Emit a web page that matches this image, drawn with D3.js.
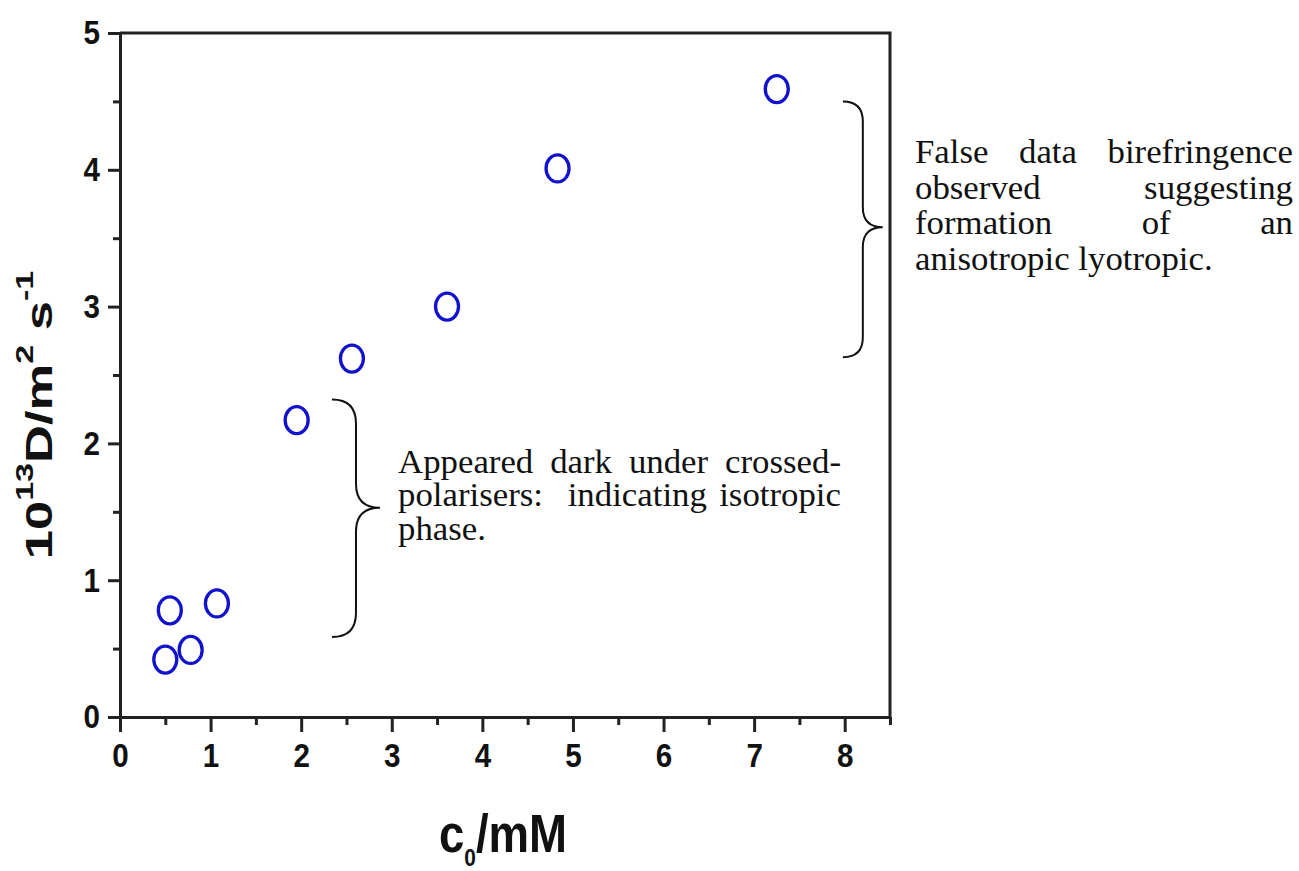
<!DOCTYPE html>
<html>
<head>
<meta charset="utf-8">
<script src="https://cdn.jsdelivr.net/npm/d3@7"></script>
<style>
body { margin: 0; background: #fff; }
svg { display: block; }
</style>
</head>
<body>
<div id="fig"></div>
<script>
// c0 in mM
var conc = [0.50, 0.55, 0.78, 1.07, 1.95, 2.56, 3.61, 4.83, 7.25];
// 10^13 D / m^2 s^-1
var diff = [0.42, 0.78, 0.49, 0.83, 2.17, 2.62, 3.00, 4.01, 4.59];

var xTicks = [0, 1, 2, 3, 4, 5, 6, 7, 8];
var xMinor = [0.5, 1.5, 2.5, 3.5, 4.5, 5.5, 6.5, 7.5, 8.5];
var yTicks = [0, 1, 2, 3, 4, 5];
var yMinor = [0.5, 1.5, 2.5, 3.5, 4.5];

var noteLow = ["Appeared dark under crossed-", "polarisers:  indicating isotropic", "phase."];
var noteHigh = ["False data birefringence", "observed suggesting", "formation of an", "anisotropic lyotropic."];

// brace spans, in data units: [x end, x tip, y top, y bottom, y tip]
var braceLow = [2.34, 2.87, 2.32, 0.585, 1.53];
var braceHigh = [7.98, 8.42, 4.50, 2.63, 3.58];

var margin = { top: 33, right: 409, bottom: 154, left: 120 };
var W = 1299, H = 871;
var width = W - margin.left - margin.right;
var height = H - margin.top - margin.bottom;

var svg = d3.select("#fig").append("svg")
    .attr("width", W)
    .attr("height", H);

var fig = svg.append("g")
    .attr("transform", "translate(" + margin.left + "," + margin.top + ")");

var x = d3.scaleLinear().domain([0, 8.5]).range([0, width]);
var y = d3.scaleLinear().domain([0, 5]).range([height, 0]);

var axisFont = "'Liberation Sans', Arial, sans-serif";

// frame top / right
fig.append("path")
    .attr("d", "M0,0H" + width + "V" + height)
    .attr("fill", "none")
    .attr("stroke", "#222")
    .attr("stroke-width", 3);

// minor ticks
fig.append("g")
    .attr("transform", "translate(0," + height + ")")
    .call(d3.axisBottom(x).tickValues(xMinor).tickSize(8).tickSizeOuter(0).tickFormat(""))
    .call(g => g.select(".domain").remove())
    .call(g => g.selectAll("line").attr("stroke", "#222").attr("stroke-width", 3));

fig.append("g")
    .call(d3.axisLeft(y).tickValues(yMinor).tickSize(7).tickSizeOuter(0).tickFormat(""))
    .call(g => g.select(".domain").remove())
    .call(g => g.selectAll("line").attr("stroke", "#222").attr("stroke-width", 3));

// major axes
var xAxis = fig.append("g")
    .attr("transform", "translate(0," + height + ")")
    .call(d3.axisBottom(x).tickValues(xTicks).tickFormat(d3.format("d"))
        .tickSize(15).tickSizeOuter(0).tickPadding(11));

var yAxis = fig.append("g")
    .call(d3.axisLeft(y).tickValues(yTicks).tickFormat(d3.format("d"))
        .tickSize(12).tickSizeOuter(0).tickPadding(8));

[xAxis, yAxis].forEach(function (g) {
    g.select(".domain").attr("stroke", "#222").attr("stroke-width", 3);
    g.selectAll(".tick line").attr("stroke", "#222").attr("stroke-width", 3);
    g.selectAll(".tick text")
        .attr("font-family", axisFont)
        .attr("font-weight", "bold")
        .attr("font-size", 34)
        .attr("fill", "#111");
});
xAxis.selectAll(".tick text").attr("transform", "scale(0.87,1)");
yAxis.selectAll(".tick text").attr("x", -20 / 0.87).attr("transform", "scale(0.87,1)");

// points
fig.selectAll("ellipse.pt")
    .data(conc)
    .enter().append("ellipse")
    .attr("class", "pt")
    .attr("cx", d => x(d))
    .attr("cy", (d, i) => y(diff[i]))
    .attr("rx", 11.5)
    .attr("ry", 13.5)
    .attr("fill", "none")
    .attr("stroke", "#1212cc")
    .attr("stroke-width", 3.3);

// axis titles
var yLab = svg.append("text")
    .attr("font-family", axisFont)
    .attr("font-weight", "bold")
    .attr("font-size", 37)
    .attr("fill", "#111")
    .attr("text-anchor", "middle")
    .attr("transform", "translate(52,415) rotate(-90) scale(1.42,1)");
yLab.append("tspan").text("10");
yLab.append("tspan").attr("font-size", 24).attr("dy", -19).text("13");
yLab.append("tspan").attr("dy", 19).text("D/m");
yLab.append("tspan").attr("font-size", 24).attr("dy", -19).text("2");
yLab.append("tspan").attr("dy", 19).text(" s");
yLab.append("tspan").attr("font-size", 24).attr("dy", -19).text("-1");

var xLab = svg.append("text")
    .attr("font-family", axisFont)
    .attr("font-weight", "bold")
    .attr("font-size", 48)
    .attr("fill", "#111")
    .attr("text-anchor", "middle")
    .attr("transform", "translate(503,852) scale(0.95,1.13)");
xLab.append("tspan").text("c");
xLab.append("tspan").attr("font-size", 22).attr("dy", 12).text("0");
xLab.append("tspan").attr("dy", -12).text("/mM");

// braces
function brace(b) {
    var xo = x(b[0]), xt = x(b[1]), yt = y(b[2]), yb = y(b[3]), ym = y(b[4]);
    var xv = (xo + xt) / 2, r = xt - xv;
    return "M" + xo + "," + yt +
        "Q" + xv + "," + yt + " " + xv + "," + (yt + r) +
        "L" + xv + "," + (ym - r) +
        "Q" + xv + "," + ym + " " + xt + "," + ym +
        "Q" + xv + "," + ym + " " + xv + "," + (ym + r) +
        "L" + xv + "," + (yb - r) +
        "Q" + xv + "," + yb + " " + xo + "," + yb;
}
[braceLow, braceHigh].forEach(function (b) {
    fig.append("path")
        .attr("d", brace(b))
        .attr("fill", "none")
        .attr("stroke", "#111")
        .attr("stroke-width", 2);
});

// justified notes (widened a little to mimic the original wider serif)
var noteFont = "'Liberation Serif', 'Times New Roman', serif";
var noteSize = 33, noteStretch = 1.055;
function note(lines, left, top, boxW, lineH) {
    var g = svg.append("g")
        .attr("transform", "translate(" + left + "," + top + ") scale(" + noteStretch + ",1)");
    var w = boxW / noteStretch;
    lines.forEach(function (line, i) {
        var words = line.split(" ");
        var by = i * lineH;
        if (i === lines.length - 1) {
            g.append("text")
                .attr("x", 0).attr("y", by)
                .attr("font-family", noteFont).attr("font-size", noteSize).attr("fill", "#111")
                .text(line);
            return;
        }
        var nodes = words.map(function (wd) {
            return g.append("text")
                .attr("y", by)
                .attr("font-family", noteFont).attr("font-size", noteSize).attr("fill", "#111")
                .text(wd);
        });
        var widths = nodes.map(n => n.node().getComputedTextLength());
        var gap = (w - d3.sum(widths)) / (words.length - 1);
        var cx = 0;
        nodes.forEach(function (n, k) {
            n.attr("x", cx);
            cx += widths[k] + gap;
        });
    });
}
note(noteLow, 398, 473, 443, 33.5);
note(noteHigh, 915, 163, 378, 35.7);
</script>
</body>
</html>
